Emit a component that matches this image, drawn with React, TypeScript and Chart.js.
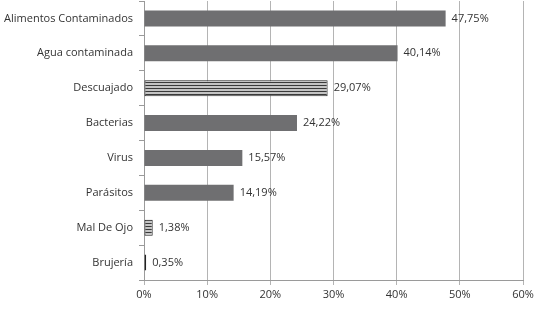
import React, { useEffect, useRef } from "react";
import { Chart, registerables } from "chart.js";

Chart.register(...registerables);

const categories = [
  "Alimentos Contaminados",
  "Agua contaminada",
  "Descuajado",
  "Bacterias",
  "Virus",
  "Parásitos",
  "Mal De Ojo",
  "Brujería",
];
const values = [47.75, 40.14, 29.07, 24.22, 15.57, 14.19, 1.38, 0.35];
const valueLabels = ["47,75%", "40,14%", "29,07%", "24,22%", "15,57%", "14,19%", "1,38%", "0,35%"];
const striped = [false, false, true, false, false, false, true, true];
const xTicks = [0, 10, 20, 30, 40, 50, 60];

const FONT = "'Open Sans', 'DejaVu Sans', sans-serif";

function makeStripePattern(): CanvasPattern | string {
  const c = document.createElement("canvas");
  c.width = 4;
  c.height = 3;
  const ctx = c.getContext("2d");
  if (!ctx) return "#888";
  ctx.fillStyle = "#c4c4c4";
  ctx.fillRect(0, 0, 4, 3);
  ctx.fillStyle = "#3a3a3a";
  ctx.fillRect(0, 1, 4, 1);
  const p = ctx.createPattern(c, "repeat");
  return p || "#888";
}

const valueLabelPlugin = {
  id: "valueLabels",
  afterDatasetsDraw(chart: any) {
    const ctx = chart.ctx;
    const meta = chart.getDatasetMeta(0);
    ctx.save();
    ctx.font = `11px ${FONT}`;
    ctx.fillStyle = "#333333";
    ctx.textAlign = "left";
    ctx.textBaseline = "middle";
    meta.data.forEach((bar: any, i: number) => {
      ctx.fillText(valueLabels[i], bar.x + 6, bar.y);
    });
    ctx.restore();
  },
};

export default function App() {
  const ref = useRef<HTMLCanvasElement>(null);
  useEffect(() => {
    document.body.style.margin = "0";
    if (!ref.current) return;
    const pattern = makeStripePattern();
    const chart = new Chart(ref.current, {
      type: "bar",
      data: {
        labels: categories,
        datasets: [
          {
            data: values,
            backgroundColor: striped.map((s) => (s ? pattern : "#6f6f71")),
            borderColor: striped.map((s) => (s ? "#222222" : "#6f6f71")),
            borderWidth: striped.map((s) => (s ? 1 : 0)) as any,
            borderSkipped: false,
            barPercentage: 0.46,
            categoryPercentage: 1,
          },
        ],
      },
      options: {
        indexAxis: "y",
        animation: false,
        responsive: false,
        layout: { padding: { top: 1, right: 27, left: 0, bottom: 0 } },
        plugins: { legend: { display: false }, tooltip: { enabled: false } },
        scales: {
          x: {
            min: 0,
            max: 60,
            afterBuildTicks: (scale: any) => {
              scale.ticks = xTicks.map((v) => ({ value: v }));
            },
            ticks: {
              callback: (v: any) => `${v}%`,
              font: { family: FONT, size: 11 },
              color: "#333333",
              padding: 3,
            },
            grid: { color: "#b4b4b4", lineWidth: 1, tickLength: 5, drawTicks: true },
            border: { color: "#9a9a9a" },
            afterFit: (scale: any) => {
              scale.height = 31;
            },
          },
          y: {
            ticks: {
              font: { family: FONT, size: 11 },
              color: "#333333",
              padding: 6,
            },
            grid: { drawOnChartArea: false, tickLength: 5, color: "#9a9a9a", offset: true },
            border: { color: "#9a9a9a" },
            afterFit: (scale: any) => {
              scale.width = 144;
              scale.paddingTop = 0;
              scale.paddingBottom = 0;
            },
          },
        },
      },
      plugins: [valueLabelPlugin],
    });
    return () => chart.destroy();
  }, []);
  return (
    <div style={{ width: 550, height: 311 }}>
      <canvas ref={ref} width={550} height={311} style={{ display: "block" }} />
    </div>
  );
}
